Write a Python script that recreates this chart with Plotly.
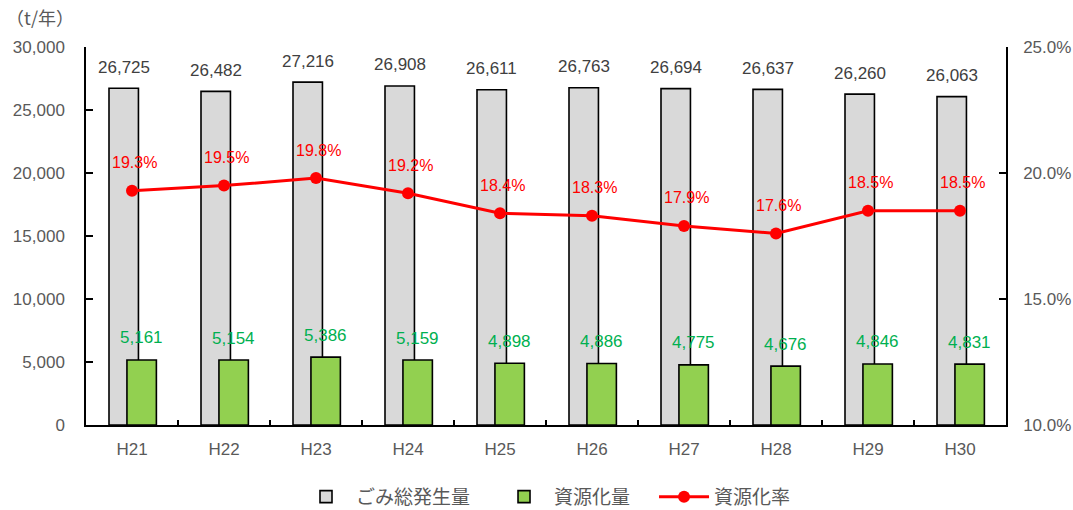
import plotly.graph_objects as go

# Fiscal years (Heisei era)
years = ["H21", "H22", "H23", "H24", "H25", "H26", "H27", "H28", "H29", "H30"]
# Total waste generated (t/year)
total_waste = [26725, 26482, 27216, 26908, 26611, 26763, 26694, 26637, 26260, 26063]
# Recycled amount (t/year)
recycled = [5161, 5154, 5386, 5159, 4898, 4886, 4775, 4676, 4846, 4831]
# Recycling rate (%)
recycle_rate = [19.3, 19.5, 19.8, 19.2, 18.4, 18.3, 17.9, 17.6, 18.5, 18.5]

FONT = "Liberation Sans, Arial, sans-serif"
JP_FONT = "Noto Sans CJK JP"
TICK_COLOR = "#595959"

BAR_W = 0.32
GREY_OFF = -0.25
GREEN_OFF = -0.055

fig = go.Figure()

fig.add_trace(go.Bar(
    x=years, y=total_waste, name="ごみ総発生量　",
    width=BAR_W, offset=GREY_OFF,
    marker=dict(color="#D9D9D9", line=dict(color="#000000", width=1.6)),
))
fig.add_trace(go.Bar(
    x=years, y=recycled, name="資源化量　",
    width=BAR_W, offset=GREEN_OFF,
    marker=dict(color="#92D050", line=dict(color="#000000", width=1.6)),
))
fig.add_trace(go.Scatter(
    x=years, y=recycle_rate, name="資源化率", yaxis="y2",
    mode="lines+markers",
    line=dict(color="#FF0000", width=3),
    marker=dict(color="#FF0000", size=12),
))

annotations = []
for i, (t, r, p) in enumerate(zip(total_waste, recycled, recycle_rate)):
    annotations.append(dict(
        x=i + GREY_OFF + BAR_W / 2, y=t, xref="x", yref="y",
        text=f"{t:,}", showarrow=False, yanchor="middle", yshift=21,
        font=dict(family=FONT, size=17, color="#404040"),
    ))
    annotations.append(dict(
        x=i + GREEN_OFF + BAR_W / 2, y=r, xref="x", yref="y",
        text=f"{r:,}", showarrow=False, yanchor="middle", yshift=22,
        font=dict(family=FONT, size=17, color="#00B050"),
    ))
    annotations.append(dict(
        x=i + 0.03, y=p, xref="x", yref="y2",
        text=f"{p:.1f}%", showarrow=False, yanchor="middle", yshift=28,
        font=dict(family=FONT, size=16, color="#FF0000"),
    ))

annotations.append(dict(
    x=0, y=1, xref="paper", yref="paper", xanchor="left", yanchor="bottom",
    text="（t/年）", showarrow=False, xshift=-82, yshift=15,
    font=dict(family=JP_FONT, size=18, color=TICK_COLOR),
))

fig.update_layout(
    width=1073, height=510,
    margin=dict(l=86, r=67, t=47, b=85, autoexpand=False),
    paper_bgcolor="white", plot_bgcolor="white",
    barmode="overlay",
    showlegend=True,
    legend=dict(
        orientation="h", x=0.5, xanchor="center", y=-0.19, yanchor="middle",
        font=dict(family=JP_FONT, size=19, color=TICK_COLOR),
        itemwidth=50, tracegroupgap=0,
    ),
    xaxis=dict(
        type="category",
        showline=True, linecolor="#000000", linewidth=2,
        ticks="inside", tickson="boundaries", ticklen=5, tickcolor="#000000", tickwidth=1.5,
        tickfont=dict(family=FONT, size=17, color=TICK_COLOR),
        ticklabelstandoff=8,
        showgrid=False, range=[-0.5, 9.5],
    ),
    yaxis=dict(
        range=[0, 30000], dtick=5000, tickformat=",d",
        showline=True, linecolor="#000000", linewidth=1.5,
        ticks="inside", ticklen=7, tickcolor="#000000", tickwidth=1.5,
        tickfont=dict(family=FONT, size=17, color=TICK_COLOR),
        ticklabelstandoff=16,
        showgrid=False, zeroline=False,
    ),
    yaxis2=dict(
        range=[10, 25], dtick=5, overlaying="y", side="right",
        ticksuffix="%", tickformat=".1f",
        showline=True, linecolor="#000000", linewidth=1.5,
        ticks="inside", ticklen=7, tickcolor="#000000", tickwidth=1.5,
        tickfont=dict(family=FONT, size=17, color=TICK_COLOR),
        ticklabelstandoff=12,
        showgrid=False, zeroline=False,
    ),
    annotations=annotations,
)

fig.write_html("out.html")
